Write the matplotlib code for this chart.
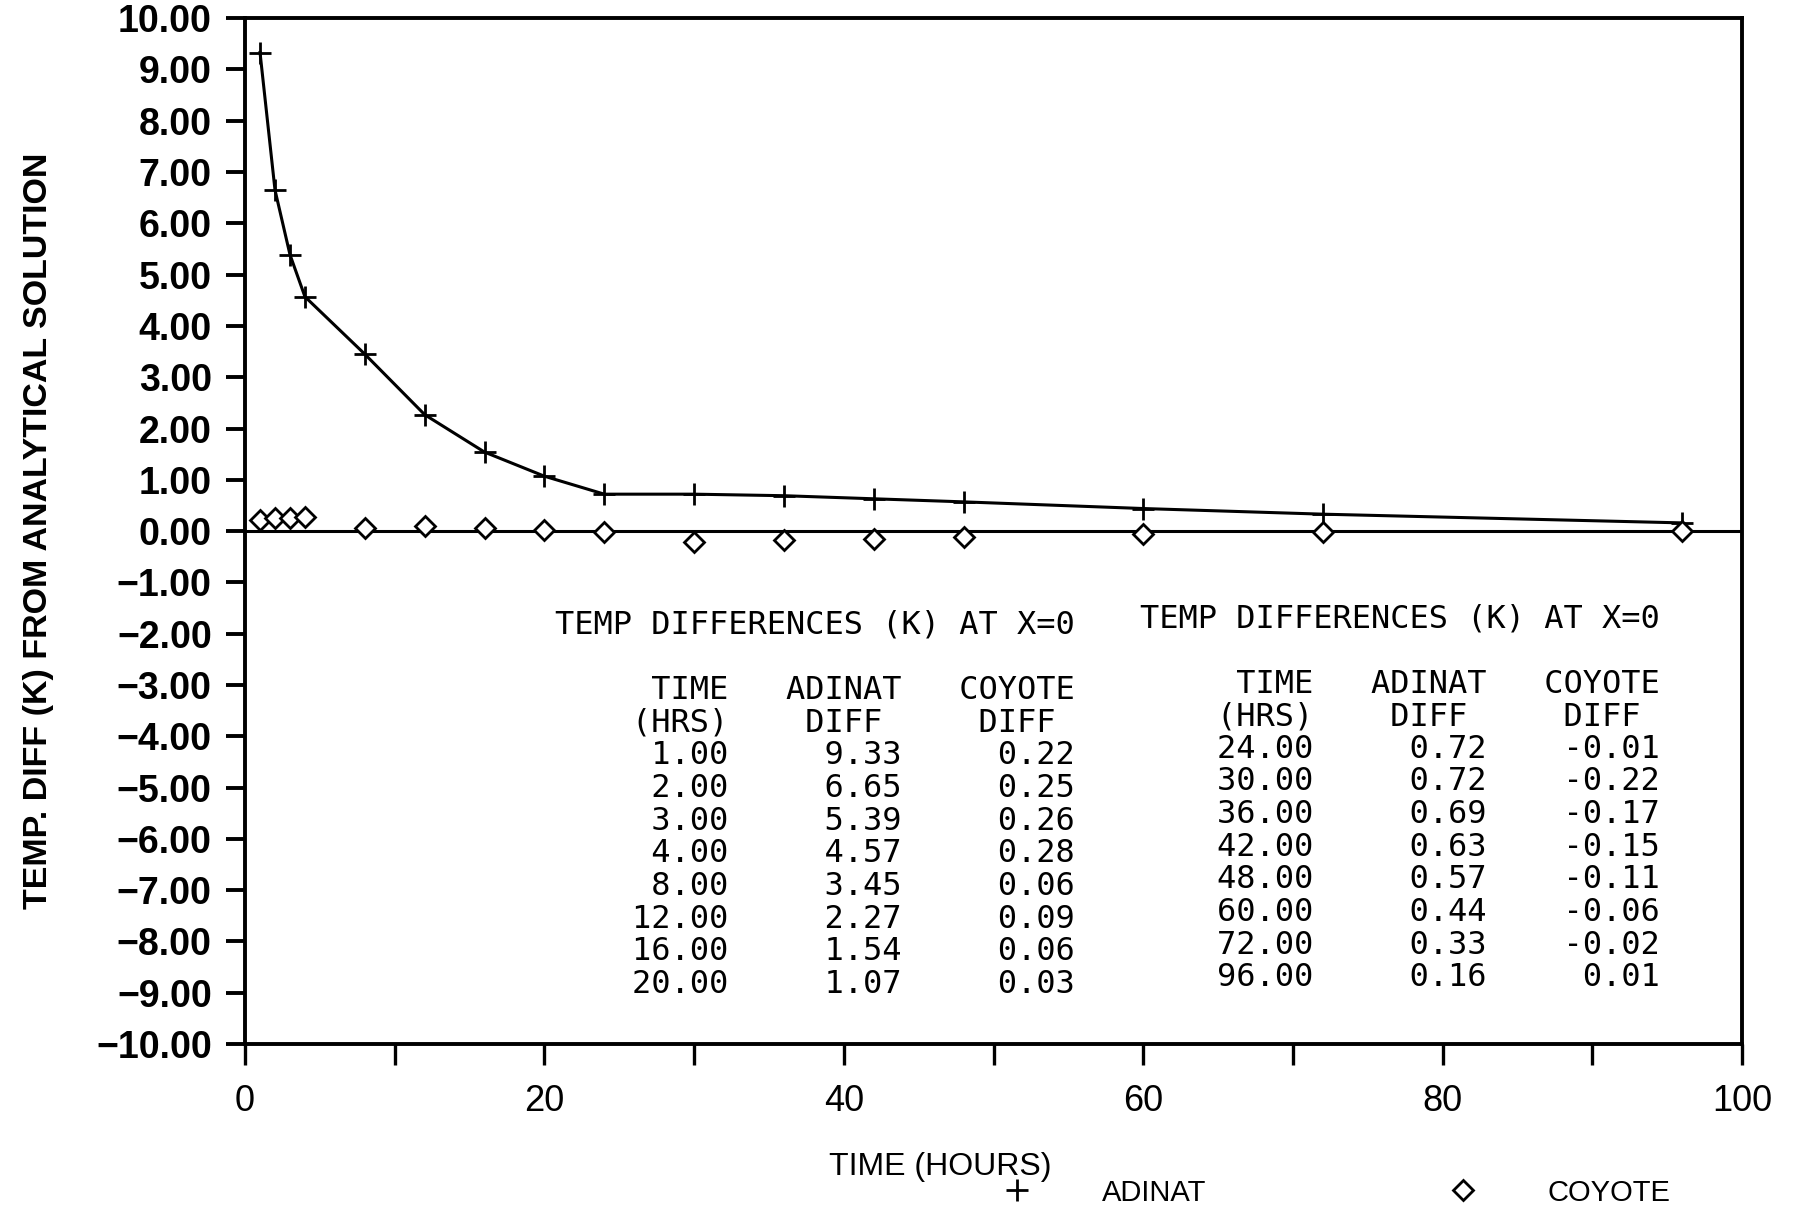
import numpy as np
import matplotlib
matplotlib.use("Agg")
import matplotlib.pyplot as plt
from matplotlib.lines import Line2D
from matplotlib.ticker import MultipleLocator, FuncFormatter

time_hrs = [1, 2, 3, 4, 8, 12, 16, 20, 24, 30, 36, 42, 48, 60, 72, 96]
adinat_diff = [9.33, 6.65, 5.39, 4.57, 3.45, 2.27, 1.54, 1.07,
               0.72, 0.72, 0.69, 0.63, 0.57, 0.44, 0.33, 0.16]
coyote_diff = [0.22, 0.25, 0.26, 0.28, 0.06, 0.09, 0.06, 0.03,
               -0.01, -0.22, -0.17, -0.15, -0.11, -0.06, -0.02, 0.01]

table_title = "TEMP DIFFERENCES (K) AT X=0"
table_head1 = "     TIME   ADINAT   COYOTE"
table_head2 = "    (HRS)    DIFF     DIFF"

plt.rcParams['font.family'] = ['Liberation Sans', 'DejaVu Sans']

fig = plt.figure(figsize=(17.94, 12.12), dpi=100)
ax = fig.add_axes([0.1366, 0.1386, 0.971 - 0.1366, 0.985 - 0.1386])

ax.axhline(0, color='black', lw=2.2, zorder=2)
ax.plot(time_hrs, adinat_diff, color='black', lw=2.2, marker='+', ms=16,
        mew=2.0, zorder=3)
ax.plot(time_hrs, coyote_diff, ls='none', marker='D', ms=10, mfc='white',
        mec='black', mew=2.0, zorder=4)

ax.set_xlim(0, 100)
ax.set_ylim(-10, 10)
ax.xaxis.set_major_locator(MultipleLocator(20))
ax.xaxis.set_minor_locator(MultipleLocator(10))
ax.yaxis.set_major_locator(MultipleLocator(1))
ax.yaxis.set_major_formatter(FuncFormatter(lambda v, p: f"{v:.2f}".replace('-', '\u2212')))

for s in ax.spines.values():
    s.set_linewidth(2.8)
ax.tick_params(axis='y', which='major', direction='out', length=14, width=2.8,
               pad=10, labelsize=27)
ax.tick_params(axis='x', which='both', direction='out', length=15, width=2.4,
               pad=14, labelsize=26)
for lab in ax.get_yticklabels():
    lab.set_fontweight('bold')

ax.set_ylabel("TEMP. DIFF (K) FROM ANALYTICAL SOLUTION", fontsize=24.5,
              fontweight='bold', labelpad=30)

# printed tables
mono = dict(family='DejaVu Sans Mono', fontsize=23, va='center', ha='left')
step = 0.636
for x0, y0, rows in [(20.7, -1.84, range(0, 8)), (59.8, -1.71, range(8, 16))]:
    ax.text(x0, y0, table_title, **mono)
    ax.text(x0, y0 - 2 * step, table_head1, **mono)
    ax.text(x0, y0 - 3 * step, table_head2, **mono)
    for k, i in enumerate(rows):
        line = f"{time_hrs[i]:9.2f}{adinat_diff[i]:9.2f}{coyote_diff[i]:9.2f}"
        ax.text(x0, y0 - (4 + k) * step, line, **mono)

fig.text(0.524, 0.037, "TIME (HOURS)", fontsize=23, ha='center', va='center')

handles = [Line2D([], [], ls='none', marker='+', ms=16, mew=2.0, color='black'),
           Line2D([], [], ls='none', marker='D', ms=10, mfc='white', mec='black', mew=2.0)]
fig.legend(handles, ["ADINAT", "COYOTE"], ncol=2, loc='center left',
           bbox_to_anchor=(0.559, 0.016), frameon=False, fontsize=21,
           handlelength=1.0, handletextpad=2.4, columnspacing=8.3,
           borderpad=0, borderaxespad=0)

fig.savefig("out.png", dpi=100)
